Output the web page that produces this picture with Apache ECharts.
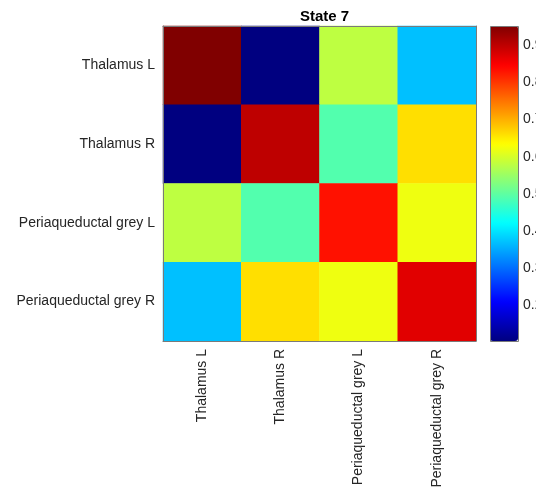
<!DOCTYPE html>
<html><head><meta charset="utf-8">
<script src="https://cdn.jsdelivr.net/npm/echarts@6/dist/echarts.min.js"></script>
<style>html,body{margin:0;padding:0;background:#fff}#c{width:536px;height:488px}</style>
</head><body><div id="c"></div>
<script>
var regions = ['Thalamus L', 'Thalamus R', 'Periaqueductal grey L', 'Periaqueductal grey R'];
var rowThalamusL = [0.952, 0.104, 0.580, 0.369];
var rowThalamusR = [0.104, 0.900, 0.490, 0.661];
var rowPAGL = [0.580, 0.490, 0.832, 0.621];
var rowPAGR = [0.369, 0.661, 0.621, 0.871];
var colorbarTicks = [0.2, 0.3, 0.4, 0.5, 0.6, 0.7, 0.8, 0.9];
var cMin = 0.104, cMax = 0.952;
var title = 'State 7';

var rows = [rowThalamusL, rowThalamusR, rowPAGL, rowPAGR];
var data = [];
rows.forEach(function (r, yi) { r.forEach(function (v, xi) { data.push([xi, yi, v]); }); });

var jet = ['#000080', '#0000ff', '#0080ff', '#00ffff', '#80ff80', '#ffff00', '#ff8000', '#ff0000', '#800000'];
var FONT = 'Liberation Sans, Arial, sans-serif';
var lineC = '#7a7a7a';
var G = {left: 163, top: 26, width: 313, height: 315};
var CB = {left: 490, top: 26, width: 28, height: 315};

function isTick(v) {
  return colorbarTicks.some(function (t) { return Math.abs(t - v) < 1e-6; });
}

var chart = echarts.init(document.getElementById('c'), null, {renderer: 'canvas'});
chart.setOption({
  animation: false,
  backgroundColor: '#fff',
  title: {text: title, left: 295, top: 4,
    textStyle: {fontFamily: FONT, fontSize: 15, fontWeight: 'bold', color: '#000'}},
  grid: [
    {left: G.left, top: G.top, width: G.width, height: G.height, outerBoundsMode: 'none', containLabel: false},
    {left: CB.left, top: CB.top, width: CB.width, height: CB.height, outerBoundsMode: 'none', containLabel: false}
  ],
  xAxis: [
    {type: 'category', data: regions, gridIndex: 0, position: 'bottom', z: 10,
      axisLine: {lineStyle: {color: lineC}},
      axisTick: {alignWithLabel: true, inside: true, length: 3, lineStyle: {color: '#444'}},
      axisLabel: {rotate: 90, fontFamily: FONT, fontSize: 14, color: '#262626', margin: 8},
      splitLine: {show: false}},
    {type: 'category', data: regions, gridIndex: 0, position: 'top', z: 10,
      axisLine: {lineStyle: {color: lineC}},
      axisTick: {alignWithLabel: true, inside: true, length: 3, lineStyle: {color: '#444'}},
      axisLabel: {show: false}},
    {type: 'value', gridIndex: 1, position: 'bottom', show: false, min: 0, max: 1}
  ],
  yAxis: [
    {type: 'category', data: regions, inverse: true, gridIndex: 0, position: 'left', z: 10,
      axisLine: {lineStyle: {color: lineC}},
      axisTick: {alignWithLabel: true, inside: true, length: 3, lineStyle: {color: '#444'}},
      axisLabel: {fontFamily: FONT, fontSize: 14, color: '#262626', margin: 8}},
    {type: 'category', data: regions, inverse: true, gridIndex: 0, position: 'right', z: 10,
      axisLine: {lineStyle: {color: lineC}},
      axisTick: {alignWithLabel: true, inside: true, length: 3, lineStyle: {color: '#444'}},
      axisLabel: {show: false}},
    {type: 'value', gridIndex: 1, position: 'right', z: 10, min: cMin, max: cMax, splitNumber: 8,
      axisLine: {show: false},
      axisTick: {show: false},
      axisLabel: {show: true, showMinLabel: false, showMaxLabel: false, fontFamily: FONT, fontSize: 14, color: '#262626', margin: 5,
        formatter: function (v) { return isTick(v) ? v.toFixed(1) : ''; }},
      splitLine: {show: false}},
    {type: 'value', gridIndex: 1, position: 'right', offset: CB.width, z: 10, min: cMin, max: cMax, splitNumber: 8,
      axisLine: {show: false},
      axisTick: {show: true, inside: true, length: 3, lineStyle: {color: '#444'}},
      axisLabel: {show: false},
      splitLine: {show: false}}
  ],
  visualMap: {
    type: 'continuous', min: cMin, max: cMax, seriesIndex: 0, calculable: false, z: 1,
    orient: 'vertical', left: CB.left, top: CB.top, itemWidth: CB.width, itemHeight: CB.height,
    padding: 0, text: null, showLabel: false, hoverLink: false,
    inRange: {color: jet}
  },
  graphic: [{
    type: 'rect', z: 100, silent: true,
    shape: {x: CB.left + 0.5, y: CB.top + 0.5, width: CB.width, height: CB.height},
    style: {fill: null, stroke: lineC, lineWidth: 1}
  }],
  series: [{
    type: 'heatmap', xAxisIndex: 0, yAxisIndex: 0, data: data,
    itemStyle: {borderWidth: 0}, emphasis: {disabled: true}
  }]
});
</script></body></html>
